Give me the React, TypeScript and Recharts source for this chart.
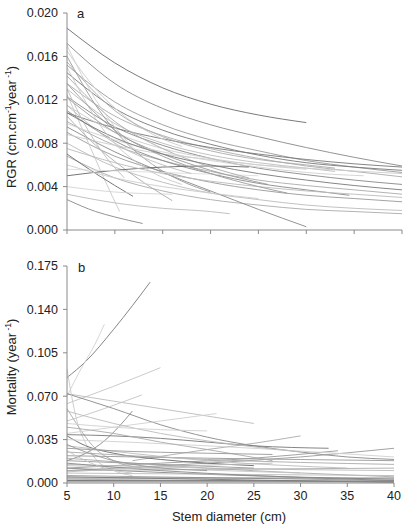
import { LineChart, Line, XAxis, YAxis } from 'recharts';

type Pt = [number, number];

const X_TICKS = [5, 10, 15, 20, 25, 30, 35, 40];
const RGR_TICKS = [0, 0.004, 0.008, 0.012, 0.016, 0.02];
const MORT_TICKS = [0, 0.035, 0.07, 0.105, 0.14, 0.175];

// panel a: RGR curves per species, [stem diameter, rgr]
const rgrLines: Pt[][] = [
  [[5, 0.0186], [10, 0.0154], [15, 0.0131], [20, 0.0116], [25, 0.0106], [30, 0.0099]],
  [[5, 0.0172], [10, 0.0135], [15, 0.0112], [20, 0.0097], [25, 0.0086], [30, 0.0076], [35, 0.0067], [40, 0.0059]],
  [[5, 0.0152], [10, 0.0118], [15, 0.0097], [20, 0.0083], [25, 0.0073], [30, 0.0064], [35, 0.0058], [40, 0.0053]],
  [[5, 0.0135], [10, 0.0105], [15, 0.0087], [20, 0.0075], [25, 0.0066], [30, 0.0059], [35, 0.0054], [40, 0.0049]],
  [[5, 0.0123], [10, 0.0095], [15, 0.0078], [20, 0.0066], [25, 0.0057], [30, 0.0051], [35, 0.0046], [40, 0.0042]],
  [[5, 0.0108], [10, 0.0094], [15, 0.0084], [20, 0.0076], [25, 0.007], [30, 0.0065], [35, 0.0061], [40, 0.0058]],
  [[5, 0.01], [10, 0.0078], [15, 0.0064], [20, 0.0054], [25, 0.0046], [30, 0.0041], [35, 0.0037], [40, 0.0033]],
  [[5, 0.009], [10, 0.0068], [15, 0.0054], [20, 0.0044], [25, 0.0037], [30, 0.0032], [35, 0.0029], [40, 0.0026]],
  [[5, 0.008], [10, 0.0058], [15, 0.0044], [20, 0.0034], [25, 0.0028], [30, 0.0023], [35, 0.002], [40, 0.0018]],
  [[5, 0.0068], [10, 0.0048], [15, 0.0036], [20, 0.0028], [25, 0.0023], [30, 0.0019], [35, 0.0017], [40, 0.0015]],
  [[5, 0.0145], [10, 0.0112], [15, 0.0092], [20, 0.0079], [25, 0.0069], [30, 0.0062], [35, 0.0058], [40, 0.0055]],
  [[5, 0.013], [10, 0.0098], [15, 0.008], [20, 0.0069], [25, 0.0062], [30, 0.0057], [33, 0.0054]],
  [[5, 0.011], [10, 0.0082], [15, 0.0064], [20, 0.0052], [25, 0.0043], [30, 0.0037], [34.5, 0.0032]],
  [[5, 0.0095], [10, 0.0072], [15, 0.0053], [20, 0.0036], [25, 0.0019], [30, 0.0003]],
  [[5, 0.0115], [10, 0.009], [15, 0.0075], [20, 0.0066], [25, 0.006], [30, 0.0056]],
  [[5, 0.0125], [7, 0.0085], [9, 0.0045], [10.5, 0.0017]],
  [[5, 0.016], [8, 0.0115], [11, 0.0082], [14, 0.006], [17, 0.0045], [20, 0.0035]],
  [[5, 0.007], [8, 0.0052], [11.9, 0.0031]],
  [[5, 0.0028], [8, 0.0017], [10, 0.0012], [12.9, 0.0006]],
  [[5, 0.0033], [10, 0.0025], [15, 0.002], [20, 0.0017], [22, 0.0015]],
  [[5, 0.004], [10, 0.0035], [16, 0.0033]],
  [[5, 0.0105], [8, 0.0078], [12, 0.005], [16, 0.0027]],
  [[5, 0.005], [10, 0.0055], [15, 0.0058], [20, 0.0059], [24, 0.0058]],
  [[5, 0.0056], [15, 0.0053], [25, 0.005]],
  [[5, 0.0165], [8, 0.013], [11, 0.0105], [14, 0.0088], [17, 0.0077]],
  [[5, 0.0142], [10, 0.01], [15, 0.0075], [20, 0.0058], [24, 0.0048]],
  [[5, 0.0122], [10, 0.009], [15, 0.007], [20, 0.0055], [26, 0.0042]],
  [[5, 0.0098], [10, 0.0083], [15, 0.0072], [20, 0.0064], [25, 0.0058], [30, 0.0053], [36, 0.005]],
  [[5, 0.0088], [10, 0.0078], [15, 0.007], [20, 0.0065], [25, 0.006], [30, 0.0057], [40, 0.0052]],
  [[5, 0.0115], [10, 0.008], [15, 0.006], [18, 0.0052]],
  [[5, 0.0155], [10, 0.011], [15, 0.0086], [20, 0.0073], [25, 0.0065], [30, 0.006], [33, 0.0057]],
  [[5, 0.0075], [10, 0.0062], [15, 0.0052], [20, 0.0045], [25, 0.004], [30, 0.0036], [35, 0.0033], [40, 0.003]],
  [[5, 0.006], [10, 0.0048], [15, 0.004], [20, 0.0034], [25, 0.0029]],
  [[5, 0.017], [8, 0.012], [10, 0.0095], [12, 0.0075], [14, 0.006]],
  [[5, 0.013], [7, 0.0095], [9, 0.0068], [11, 0.0048]],
  [[5, 0.0108], [10, 0.0085], [15, 0.007], [20, 0.006], [25, 0.0052], [30, 0.0046], [35, 0.0041], [40, 0.0037]],
  [[5, 0.015], [9, 0.009], [13, 0.0058], [17, 0.0042]],
  [[5, 0.0135], [10, 0.0092], [15, 0.0068], [20, 0.0052], [25, 0.004], [28, 0.0034]],
];
const rgrShades = [
  '#6a6a6a', '#888', '#999', '#aaa', '#888', '#777', '#aaa', '#999', '#bbb', '#aaa',
  '#777', '#bbb', '#888', '#888', '#ccc', '#c8c8c8', '#999', '#6a6a6a', '#888', '#bbb',
  '#d4d4d4', '#aaa', '#666', '#ddd', '#ccc', '#aaa', '#999', '#d0d0d0', '#ccc', '#bbb',
  '#aaa', '#bbb', '#ccc', '#d0d0d0', '#bbb', '#777', '#c8c8c8', '#999',
];

// panel b: mortality curves per species, [stem diameter, mortality]
const mortLines: Pt[][] = [
  [[5, 0.085], [7, 0.098], [10, 0.124], [12, 0.143], [13.9, 0.162]],
  [[5, 0.07], [6.5, 0.092], [8, 0.112], [9, 0.128]],
  [[5, 0.064], [10, 0.078], [15, 0.093]],
  [[5, 0.072], [10, 0.066], [15, 0.06], [20, 0.054], [25, 0.048]],
  [[5, 0.072], [10, 0.06], [15, 0.047], [20, 0.037], [25, 0.03], [30, 0.025], [35, 0.021], [40, 0.019]],
  [[5, 0.05], [9, 0.06], [13, 0.071]],
  [[5, 0.018], [7, 0.024], [9, 0.034], [10.5, 0.045], [12, 0.058]],
  [[5, 0.092], [5.5, 0.07], [6, 0.052], [7, 0.032], [8, 0.02], [10, 0.01], [12, 0.006]],
  [[5, 0.06], [6, 0.048], [7, 0.037], [8, 0.028], [10, 0.018], [13, 0.012]],
  [[5, 0.04], [10, 0.045], [15, 0.05], [21, 0.056]],
  [[12, 0.018], [20, 0.027], [25, 0.032], [30, 0.038]],
  [[5, 0.012], [15, 0.016], [25, 0.02], [34, 0.026]],
  [[5, 0.01], [20, 0.016], [30, 0.021], [40, 0.028]],
  [[5, 0.039], [10, 0.038], [15, 0.036], [20, 0.033], [25, 0.03], [33, 0.028]],
  [[5, 0.038], [7, 0.03], [10, 0.024], [15, 0.019], [20, 0.016], [25, 0.014]],
  [[5, 0.022], [20, 0.02], [40, 0.018]],
  [[5, 0.02], [20, 0.012], [40, 0.005]],
  [[5, 0.015], [20, 0.012], [40, 0.01]],
  [[5, 0.012], [20, 0.007], [40, 0.003]],
  [[5, 0.01], [20, 0.011], [40, 0.012]],
  [[5, 0.008], [40, 0.006]],
  [[5, 0.006], [40, 0.002]],
  [[5, 0.004], [40, 0.004]],
  [[5, 0.003], [40, 0.001]],
  [[5, 0.002], [40, 0.0015]],
  [[5, 0.014], [30, 0.008]],
  [[5, 0.018], [25, 0.012]],
  [[5, 0.025], [20, 0.019], [40, 0.015]],
  [[5, 0.03], [20, 0.018], [35, 0.012]],
  [[5, 0.035], [20, 0.03], [40, 0.021]],
  [[5, 0.045], [10, 0.04], [15, 0.033], [20, 0.027], [27, 0.018]],
  [[5, 0.058], [10, 0.048], [15, 0.04], [20, 0.034], [30, 0.025]],
  [[5, 0.028], [10, 0.026], [20, 0.024], [27, 0.023]],
  [[5, 0.016], [15, 0.01], [25, 0.006], [40, 0.002]],
  [[5, 0.005], [20, 0.003], [40, 0.0005]],
  [[5, 0.001], [40, 0.001]],
  [[5, 0.048], [10, 0.045], [15, 0.043], [20, 0.042]],
  [[5, 0.009], [15, 0.013], [27, 0.016]],
  [[5, 0.031], [7, 0.025], [10, 0.018], [14, 0.013], [20, 0.01]],
  [[5, 0.026], [7, 0.018], [9, 0.012], [12, 0.008]],
];
const mortShades = [
  '#777', '#d0d0d0', '#c4c4c4', '#bbb', '#888', '#c4c4c4', '#888', '#c8c8c8', '#aaa', '#d0d0d0',
  '#aaa', '#999', '#999', '#777', '#666', '#999', '#aaa', '#bbb', '#888', '#aaa',
  '#bbb', '#999', '#777', '#aaa', '#666', '#c4c4c4', '#999', '#aaa', '#bbb', '#d0d0d0',
  '#aaa', '#bbb', '#999', '#888', '#777', '#888', '#d0d0d0', '#bbb', '#999', '#c4c4c4',
];

const FONT = '"Liberation Sans", Arial, sans-serif';
const AXIS = '#8a8a8a';
const tickStyle = { fontSize: 12.5, fill: '#222', fontFamily: FONT };

const toData = (pts: Pt[]) => pts.map(([d, v]) => ({ d, v }));

function curves(lines: Pt[][], shades: string[]) {
  return lines.map((pts, i) => (
    <Line
      key={i}
      data={toData(pts)}
      dataKey="v"
      type="monotone"
      stroke={shades[i % shades.length]}
      strokeWidth={0.9}
      dot={false}
      activeDot={false}
      isAnimationActive={false}
    />
  ));
}

export default function App() {
  return (
    <div style={{ position: 'absolute', left: 0, top: 0, width: 409, height: 525, background: '#fff', fontFamily: FONT }}>
      <div style={{ position: 'absolute', left: 0, top: 0 }}>
        <LineChart width={409} height={245} margin={{ top: 13, right: 7, bottom: 0, left: 0 }}>
          <XAxis
            dataKey="d" type="number" domain={[5, 40]} ticks={X_TICKS} allowDataOverflow
            height={15} stroke={AXIS} tickSize={4} tickFormatter={() => ''}
          />
          <YAxis
            type="number" domain={[0, 0.02]} ticks={RGR_TICKS} width={67}
            stroke={AXIS} tickSize={4} tickMargin={5} tick={tickStyle}
            tickFormatter={(v: number) => v.toFixed(3)}
          />
          {curves(rgrLines, rgrShades)}
        </LineChart>
      </div>
      <div style={{ position: 'absolute', left: 0, top: 250 }}>
        <LineChart width={409} height={275} margin={{ top: 16, right: 15, bottom: 0, left: 0 }}>
          <XAxis
            dataKey="d" type="number" domain={[5, 40]} ticks={X_TICKS} allowDataOverflow
            height={42} stroke={AXIS} tickSize={4} tickMargin={4} tick={tickStyle}
          />
          <YAxis
            type="number" domain={[0, 0.175]} ticks={MORT_TICKS} width={67}
            stroke={AXIS} tickSize={4} tickMargin={5} tick={tickStyle}
            tickFormatter={(v: number) => v.toFixed(3)}
          />
          {curves(mortLines, mortShades)}
        </LineChart>
      </div>
      <svg width={409} height={525} style={{ position: 'absolute', left: 0, top: 0, pointerEvents: 'none' }}>
        <g fontFamily={FONT} fontSize={13} fill="#222">
          <text x={77} y={18}>a</text>
          <text x={78} y={272}>b</text>
          <text x={16} y={127} textAnchor="middle" transform="rotate(-90 16 127)">
            RGR (cm.cm<tspan dy={-5} fontSize={8.5}>-1</tspan>
            <tspan dy={5}>year</tspan>
            <tspan dy={-5} fontSize={8.5}> -1</tspan>
            <tspan dy={5}>)</tspan>
          </text>
          <text x={16} y={367} textAnchor="middle" transform="rotate(-90 16 367)">
            Mortality (year<tspan dy={-5} fontSize={8.5}> -1</tspan>
            <tspan dy={5}>)</tspan>
          </text>
          <text x={229} y={521} textAnchor="middle">Stem diameter (cm)</text>
        </g>
      </svg>
    </div>
  );
}
